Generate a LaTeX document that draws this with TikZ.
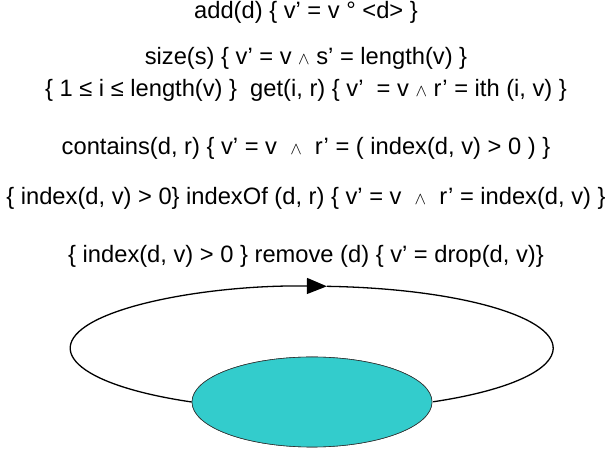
\documentclass[tikz,border=0pt]{standalone}
\usepackage{fontspec}
\setmainfont{Liberation Sans}
\usepackage{tikz}
\usetikzlibrary{positioning,arrows.meta,shapes.geometric}

\definecolor{statecyan}{RGB}{51,204,204}
\newcommand{\andop}{{\fontsize{17}{17}\selectfont$\wedge$}}

\begin{document}
\begin{tikzpicture}[
  x=1pt, y=1pt,
  spec/.style={
    inner sep=0pt, text height=17pt, text depth=5pt,
    font=\fontsize{23.7}{28}\selectfont
  },
  statenode/.style={
    draw=black!80, line width=0.6pt, ellipse, fill=statecyan,
    minimum width=240pt, minimum height=90pt, inner sep=0pt
  },
  loopline/.style={draw=black, line width=1.3pt}
]
\useasboundingbox (0,0) rectangle (612,454);

\node[spec] (add) at (306,441) {add(d) \{ v’ = v ° <d> \}};

\node[spec] (size) [below=23pt of add] {size(s) \{ v’ = v \andop{} s’ = length(v) \}};

\node[spec] (get) [below=10pt of size] {\{ 1 ≤ i ≤ length(v) \}\ \ get(i, r) \{ v’\ \ = v \andop{} r’ = ith (i, v) \}};

\node[spec] (contains) [below=35pt of get] {contains(d, r) \{ v’ = v\ \ \andop\ \ r’ = ( index(d, v) > 0 ) \}};

\node[spec] (indexof) [below=28pt of contains] {\{ index(d, v) > 0\} indexOf (d, r) \{ v’ = v\ \ \andop\ \ r’ = index(d, v) \}};

\node[spec] (remove) [below=36pt of indexof] {\{ index(d, v) > 0 \} remove (d) \{ v’ = drop(d, v)\}};

\node[statenode] (state) at (312,52) {};

% self loop round the state
\draw[loopline,-{Triangle[length=20pt,width=16pt]}] (state.west)
  arc[start angle=240.2, end angle=86.4, x radius=241.5, y radius=62]
  coordinate (looptop);
\draw[loopline] (looptop)
  arc[start angle=86.4, end angle=-59.8, x radius=241.5, y radius=62];

\node[statenode] at (state) {};

\end{tikzpicture}
\end{document}
